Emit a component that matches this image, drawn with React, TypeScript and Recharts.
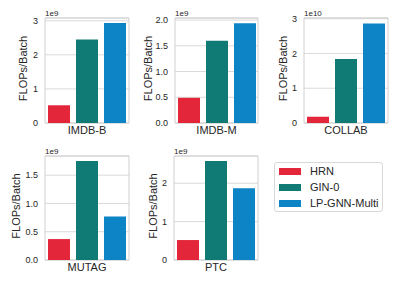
import React from 'react';
import { BarChart, Bar, XAxis, YAxis, CartesianGrid, ReferenceArea } from 'recharts';

const seriesNames = ['HRN', 'GIN-0', 'LP-GNN-Multi'];
const seriesColors = ['#e3263a', '#107b75', '#0c84c6'];
const datasets = ['IMDB-B', 'IMDB-M', 'COLLAB', 'MUTAG', 'PTC'];
const hrnValues = [0.52, 0.49, 0.18, 0.37, 0.52];
const ginValues = [2.45, 1.6, 1.84, 1.75, 2.58];
const lpValues = [2.93, 1.94, 2.86, 0.77, 1.87];
const scaleLabels = ['1e9', '1e9', '1e10', '1e9', '1e9'];
const yMaxValues = [3.08, 2.04, 3.02, 1.84, 2.71];
const yTickValues = [
  [0, 1, 2, 3],
  [0, 0.5, 1, 1.5, 2],
  [0, 1, 2, 3],
  [0, 0.5, 1, 1.5],
  [0, 1, 2],
];
const tickDecimals = [0, 1, 0, 1, 0];
const yLabel = 'FLOPs/Batch';

// layout (plot rectangles in page pixels)
const plots = [
  { x: 45, y: 18, w: 84, h: 105, lab: 22.5 },
  { x: 175, y: 18, w: 83, h: 105, lab: 27.5 },
  { x: 304, y: 18, w: 84, h: 105, lab: 21.5 },
  { x: 45, y: 156, w: 84, h: 104, lab: 29 },
  { x: 174, y: 156, w: 84, h: 104, lab: 21.5 },
];

const FONT = '"Liberation Sans", Arial, sans-serif';
const TXT = '#262626';
const ML = 45;
const MT = 18;
const MR = 4;
const XH = 22;

function Panel({ i }: { i: number }) {
  const p = plots[i];
  const data = [
    {
      name: datasets[i],
      [seriesNames[0]]: hrnValues[i],
      [seriesNames[1]]: ginValues[i],
      [seriesNames[2]]: lpValues[i],
    },
  ];
  const width = ML + p.w + MR;
  const height = MT + p.h + XH;
  const lx = ML - p.lab;
  const ly = MT + p.h / 2 - 2;
  const renderLabel = () => (
    <g>
      <text
        x={lx}
        y={ly}
        transform={`rotate(-90, ${lx}, ${ly})`}
        textAnchor="middle"
        dominantBaseline="central"
        fontSize={11}
        fill={TXT}
        fontFamily={FONT}
      >
        {yLabel}
      </text>
      <text x={ML} y={MT - 2} fontSize={8} fill={TXT} fontFamily={FONT}>
        {scaleLabels[i]}
      </text>
    </g>
  );
  return (
    <div style={{ position: 'absolute', left: p.x - ML, top: p.y - MT }}>
      <BarChart
        width={width}
        height={height}
        data={data}
        margin={{ top: MT, right: MR, left: 0, bottom: 0 }}
        barCategoryGap={3}
        barGap={6}
        style={{ fontFamily: FONT }}
      >
        <CartesianGrid vertical={false} stroke="#dadada" />
        <ReferenceArea y1={0} y2={yMaxValues[i]} fill="none" stroke="#d0d0d0" strokeWidth={1} ifOverflow="visible" />
        <XAxis
          dataKey="name"
          tickLine={false}
          axisLine={false}
          tickSize={0}
          tickMargin={3}
          height={XH}
          tick={{ fontSize: 11, fill: TXT, fontFamily: FONT }}
        />
        <YAxis
          width={ML}
          type="number"
          domain={[0, yMaxValues[i]]}
          ticks={yTickValues[i]}
          interval={0}
          tickLine={false}
          axisLine={false}
          tickSize={0}
          tickMargin={7}
          tick={{ fontSize: 9, fill: TXT, fontFamily: FONT }}
          tickFormatter={(v: number) => v.toFixed(tickDecimals[i])}
          label={renderLabel}
        />
        {seriesNames.map((s, k) => (
          <Bar key={s} dataKey={s} name={s} fill={seriesColors[k]} isAnimationActive={false} />
        ))}
      </BarChart>
    </div>
  );
}

function LegendBox() {
  return (
    <div
      style={{
        position: 'absolute',
        left: 274,
        top: 162,
        width: 107,
        height: 48,
        border: '1px solid #d8d8d8',
        borderRadius: 3,
        fontFamily: FONT,
        fontSize: 11,
        color: TXT,
        background: '#fff',
      }}
    >
      {seriesNames.map((s, k) => (
        <div
          key={s}
          style={{ position: 'absolute', left: 0, top: 1 + k * 16, height: 14, display: 'flex', alignItems: 'center' }}
        >
          <span
            style={{ display: 'inline-block', marginLeft: 4, width: 22, height: 7, background: seriesColors[k] }}
          />
          <span style={{ marginLeft: 9, whiteSpace: 'nowrap', lineHeight: '14px' }}>{s}</span>
        </div>
      ))}
    </div>
  );
}

export default function App() {
  return (
    <div style={{ position: 'absolute', left: 0, top: 0, width: 399, height: 285, background: '#fff' }}>
      {datasets.map((d, i) => (
        <Panel key={d} i={i} />
      ))}
      <LegendBox />
    </div>
  );
}
